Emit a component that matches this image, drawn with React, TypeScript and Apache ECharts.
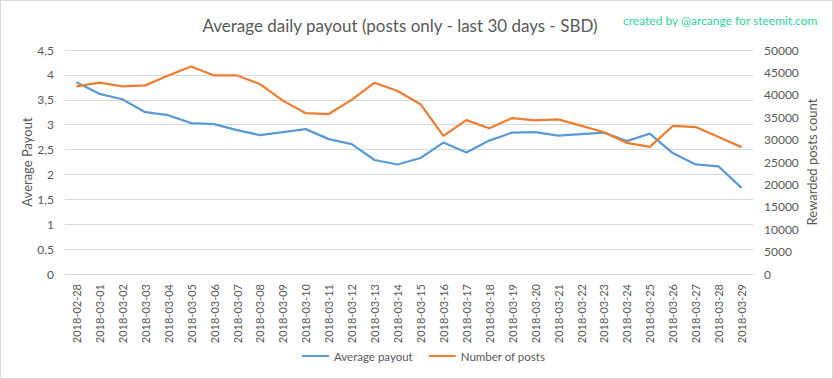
import React, { useEffect, useRef } from "react";
import * as echarts from "echarts";

const dates = [
  "2018-02-28", "2018-03-01", "2018-03-02", "2018-03-03", "2018-03-04", "2018-03-05",
  "2018-03-06", "2018-03-07", "2018-03-08", "2018-03-09", "2018-03-10", "2018-03-11",
  "2018-03-12", "2018-03-13", "2018-03-14", "2018-03-15", "2018-03-16", "2018-03-17",
  "2018-03-18", "2018-03-19", "2018-03-20", "2018-03-21", "2018-03-22", "2018-03-23",
  "2018-03-24", "2018-03-25", "2018-03-26", "2018-03-27", "2018-03-28", "2018-03-29",
];

const averagePayout = [
  3.85, 3.62, 3.51, 3.25, 3.19, 3.03, 3.01, 2.89, 2.79, 2.85,
  2.91, 2.71, 2.61, 2.29, 2.2, 2.33, 2.64, 2.44, 2.68, 2.84,
  2.85, 2.78, 2.81, 2.84, 2.67, 2.82, 2.43, 2.2, 2.16, 1.73,
];

const numberOfPosts = [
  41880, 42700, 41880, 42100, 44310, 46300, 44310, 44310, 42400, 38700,
  35900, 35700, 38870, 42700, 40850, 37900, 30820, 34360, 32520, 34800,
  34290, 34510, 33110, 31640, 29270, 28390, 33040, 32810, 30600, 28320,
];

const FONT = "Lato, 'Open Sans', sans-serif";
const GRAY = "#595959";

export default function App() {
  const ref = useRef<HTMLDivElement>(null);
  useEffect(() => {
    if (!ref.current) return;
    const chart = echarts.init(ref.current, undefined, { renderer: "svg" });
    chart.setOption({
      animation: false,
      backgroundColor: "#ffffff",
      textStyle: { fontFamily: FONT },
      title: [
        {
          text: "Average daily payout (posts only - last 30 days - SBD)",
          left: 394,
          textAlign: "center",
          top: 11,
          textStyle: { fontFamily: FONT, fontSize: 17, fontWeight: "normal", color: GRAY },
        },
        {
          text: "created by @arcange for steemit.com",
          left: 617,
          top: 8,
          textStyle: { fontFamily: FONT, fontSize: 12, fontWeight: "normal", color: "#2ED3A2" },
        },
      ],
      legend: {
        bottom: 11,
        left: 296,
        itemWidth: 27,
        itemHeight: 2,
        itemGap: 16,
        icon: "rect",
        textStyle: { fontFamily: FONT, fontSize: 11.5, color: GRAY },
        data: ["Average payout", "Number of posts"],
      },
      grid: { left: 64, right: 79, top: 49, bottom: 104, containLabel: false },
      xAxis: {
        type: "category",
        data: dates,
        boundaryGap: true,
        axisLine: { lineStyle: { color: "#d9d9d9" } },
        axisTick: { show: false },
        axisLabel: { rotate: 90, fontSize: 11, color: GRAY, fontFamily: FONT, interval: 0, margin: 10 },
      },
      yAxis: [
        {
          type: "value",
          min: 0,
          max: 4.5,
          interval: 0.5,
          name: "Average Payout",
          nameLocation: "middle",
          nameGap: 32,
          nameMoveOverlap: false,
          nameTextStyle: { fontFamily: FONT, fontSize: 13, color: GRAY },
          axisLine: { show: false },
          axisTick: { show: false },
          axisLabel: {
            color: GRAY,
            fontSize: 12,
            fontFamily: FONT,
            margin: 11,
            formatter: (v: number) => String(v).replace(".", ","),
          },
          splitLine: { lineStyle: { color: "#d9d9d9" } },
        },
        {
          type: "value",
          min: 0,
          max: 50000,
          interval: 5000,
          name: "Rewarded posts count",
          nameLocation: "middle",
          nameGap: 52,
          nameMoveOverlap: false,
          nameRotate: 90,
          nameTextStyle: { fontFamily: FONT, fontSize: 13, color: GRAY },
          axisLine: { show: false },
          axisTick: { show: false },
          axisLabel: {
            color: GRAY,
            fontSize: 12,
            fontFamily: FONT,
            margin: 11,
            formatter: (v: number) => String(v),
          },
          splitLine: { show: false },
        },
      ],
      series: [
        {
          name: "Average payout",
          type: "line",
          data: averagePayout,
          yAxisIndex: 0,
          symbol: "none",
          itemStyle: { color: "#5B9BD5" },
          lineStyle: { color: "#5B9BD5", width: 2.25 },
        },
        {
          name: "Number of posts",
          type: "line",
          data: numberOfPosts,
          yAxisIndex: 1,
          symbol: "none",
          itemStyle: { color: "#ED7D31" },
          lineStyle: { color: "#ED7D31", width: 2.25 },
        },
      ],
    });
    return () => chart.dispose();
  }, []);
  return (
    <div
      style={{
        position: "fixed",
        left: 0,
        top: 0,
        width: 833,
        height: 379,
        boxSizing: "border-box",
        border: "1px solid #d9d9d9",
        background: "#fff",
      }}
    >
      <div ref={ref} style={{ width: 831, height: 377 }} />
    </div>
  );
}
